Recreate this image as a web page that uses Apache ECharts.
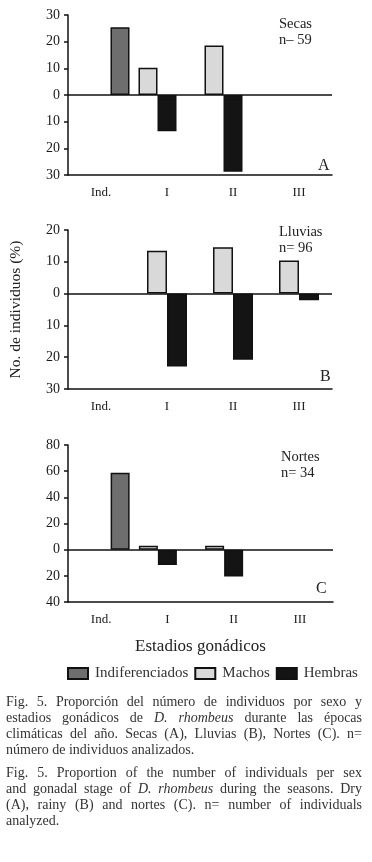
<!DOCTYPE html>
<html>
<head>
<meta charset="utf-8">
<script src="https://cdn.jsdelivr.net/npm/echarts@6/dist/echarts.min.js"></script>
<style>
  html, body { margin: 0; padding: 0; background: #fff; }
  #wrap { position: relative; width: 372px; height: 862px; }
  #chart { position: absolute; left: 0; top: 0; width: 372px; height: 862px; }
  .cap { position: absolute; left: 6px; width: 356px; font-family: 'Liberation Serif', serif; font-size: 14px; line-height: 16px; color: #333; }
  .cap div { text-align: justify; text-align-last: justify; }
  .cap div.last { text-align-last: left; }
</style>
</head>
<body>
<div id="wrap">
  <div id="chart"></div>
  <div class="cap" style="top:694px">
    <div>Fig. 5. Proporción del número de individuos por sexo y</div>
    <div>estadios gonádicos de <i>D. rhombeus</i> durante las épocas</div>
    <div>climáticas del año. Secas (A), Lluvias (B), Nortes (C). n=</div>
    <div class="last">número de individuos analizados.</div>
  </div>
  <div class="cap" style="top:765px">
    <div>Fig. 5. Proportion of the number of individuals per sex</div>
    <div>and gonadal stage of <i>D. rhombeus</i> during the seasons. Dry</div>
    <div>(A), rainy (B) and nortes (C). n= number of individuals</div>
    <div class="last">analyzed.</div>
  </div>
</div>
<script>
// Gonadal stages (x categories)
const stages = ['Ind.', 'I', 'II', 'III']

// % of individuals, Secas (A), n=59
const secasIndif = [25.4, null, null, null]
const secasMachos = [null, 10.2, 18.6, null]
const secasHembras = [null, 13.6, 28.8, null]

// Lluvias (B), n=96
const lluviasMachos = [null, 13.5, 14.6, 10.4]
const lluviasHembras = [null, 22.9, 20.8, 2.1]

// Nortes (C), n=34
const nortesIndif = [58.8, null, null, null]
const nortesMachos = [null, 2.9, 2.9, null]
const nortesHembras = [null, 11.8, 20.6, null]

// y-axis extents per panel [min, max, interval]
const yRanges = [[-30, 30, 10], [-30, 20, 10], [-40, 80, 20]]

const SERIF = 'Liberation Serif'
const COLOR_INDIF = '#6e6e6e'
const COLOR_MACHOS = '#d9d9d9'
const COLOR_HEMBRAS = '#141414'
const AXIS = '#111'

const chart = echarts.init(document.getElementById('chart'))

const neg = (arr) => arr.map((v) => (v == null ? null : -v))

const grids = [
  { left: 68, right: 40, top: 15, height: 160 },
  { left: 68, right: 40, top: 230, height: 159 },
  { left: 68, right: 39, top: 445, height: 157 },
]

const xAxes = grids.map((g, i) => ({
  type: 'category',
  gridIndex: i,
  data: stages,
  axisLine: { onZero: false, lineStyle: { color: AXIS, width: 1.5 } },
  axisTick: { alignWithLabel: true, length: 4, lineStyle: { color: AXIS, width: 1.5 } },
  axisLabel: { fontFamily: SERIF, fontSize: 13, color: '#222', margin: 11 },
  name: i === 2 ? 'Estadios gonádicos' : '',
  nameLocation: 'middle',
  nameGap: 36,
  nameTextStyle: { fontFamily: SERIF, fontSize: 17, color: '#222' },
}))

const yAxes = yRanges.map(([min, max, interval], i) => ({
  type: 'value',
  gridIndex: i,
  min,
  max,
  interval,
  axisLine: { show: true, lineStyle: { color: AXIS, width: 1.5 } },
  axisTick: { show: true, length: 4, lineStyle: { color: AXIS, width: 1.5 } },
  splitLine: { show: false },
  axisLabel: {
    fontFamily: SERIF,
    fontSize: 14,
    color: '#1a1a1a',
    margin: 8,
    formatter: (v) => Math.abs(v).toString(),
  },
  name: i === 1 ? 'No. de individuos (%)' : '',
  nameLocation: 'middle',
  nameRotate: 90,
  nameGap: 44,
  nameTextStyle: { fontFamily: SERIF, fontSize: 15.5, color: '#222' },
}))

const zeroLine = {
  symbol: 'none',
  silent: true,
  label: { show: false },
  lineStyle: { color: AXIS, width: 1.5, type: 'solid' },
  data: [{ yAxis: 0 }],
}

const bar = (name, color, data, idx, width, withZero) => ({
  name,
  type: 'bar',
  xAxisIndex: idx,
  yAxisIndex: idx,
  data,
  barWidth: width,
  barGap: '0%',
  itemStyle: { color, borderColor: AXIS, borderWidth: 1.5 },
  markLine: withZero ? zeroLine : undefined,
  z: 2,
})

const panelText = (left, top, text, size) => ({
  type: 'text',
  left,
  top,
  style: { text, fontFamily: SERIF, fontSize: size, lineHeight: 16, fill: '#222' },
})

chart.setOption({
  animation: false,
  grid: grids,
  xAxis: xAxes,
  yAxis: yAxes,
  legend: {
    data: ['Indiferenciados', 'Machos', 'Hembras'],
    left: 62,
    top: 661,
    icon: 'rect',
    itemWidth: 20,
    itemHeight: 11,
    itemGap: 6,
    selectedMode: false,
    textStyle: { fontFamily: SERIF, fontSize: 15, color: '#333', padding: [0, 0, 0, 2] },
  },
  series: [
    // A: Secas
    bar('Machos', COLOR_MACHOS, secasMachos, 0, 19, true),
    bar('Hembras', COLOR_HEMBRAS, neg(secasHembras), 0, 19, false),
    bar('Indiferenciados', COLOR_INDIF, secasIndif, 0, 19, false),
    // B: Lluvias
    bar('Machos', COLOR_MACHOS, lluviasMachos, 1, 20, true),
    bar('Hembras', COLOR_HEMBRAS, neg(lluviasHembras), 1, 20, false),
    // C: Nortes
    bar('Machos', COLOR_MACHOS, nortesMachos, 2, 19, true),
    bar('Hembras', COLOR_HEMBRAS, neg(nortesHembras), 2, 19, false),
    bar('Indiferenciados', COLOR_INDIF, nortesIndif, 2, 19, false),
  ],
  graphic: [
    panelText(279, 16, 'Secas\nn– 59', 14.5),
    panelText(318, 158, 'A', 16),
    panelText(279, 224, 'Lluvias\nn= 96', 14.5),
    panelText(320, 369, 'B', 16),
    panelText(281, 449, 'Nortes\nn= 34', 14.5),
    panelText(316, 581, 'C', 16),
  ],
})
</script>
</body>
</html>
